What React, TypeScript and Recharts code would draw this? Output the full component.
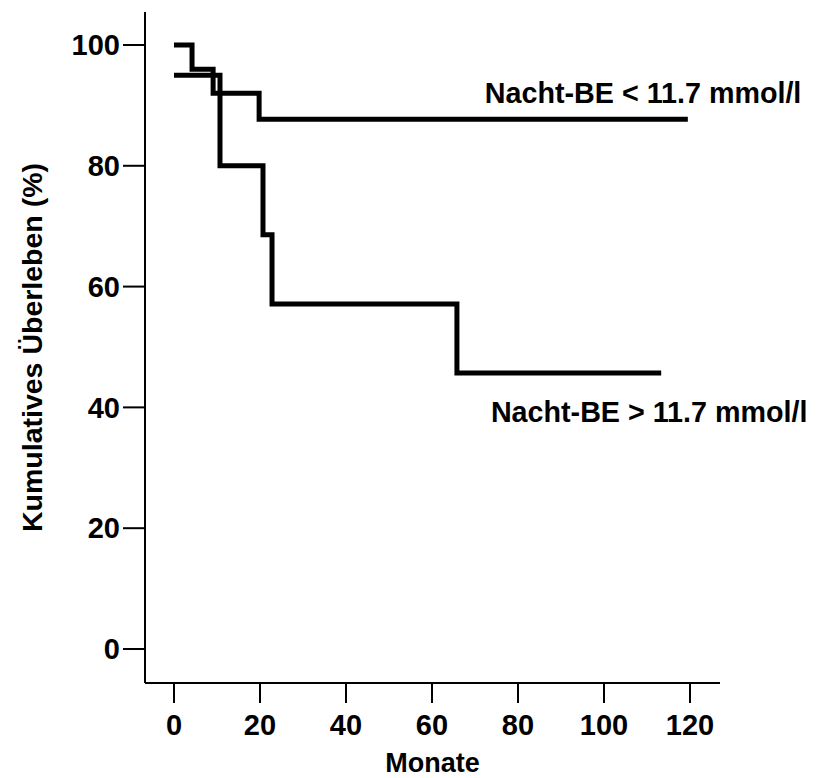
import React from 'react'
import { LineChart, Line, XAxis, YAxis, ReferenceDot } from 'recharts'

// Nacht-BE < 11.7 mmol/l
const monateUnter = [0, 4.2, 9.1, 19.8, 119.5]
const ueberlebenUnter = [100, 96, 92, 87.7, 87.7]

// Nacht-BE > 11.7 mmol/l
const monateUeber = [0, 10.7, 20.7, 22.8, 65.8, 113.3]
const ueberlebenUeber = [95, 80, 68.6, 57.1, 45.7, 45.7]

const xTicks = [0, 20, 40, 60, 80, 100, 120]
const yTicks = [0, 20, 40, 60, 80, 100]

const labelUnter = 'Nacht-BE < 11.7 mmol/l'
const labelUeber = 'Nacht-BE > 11.7 mmol/l'

const unterData = monateUnter.map((t, i) => ({ t, s: ueberlebenUnter[i] }))
const ueberData = monateUeber.map((t, i) => ({ t, s: ueberlebenUeber[i] }))

const FONT = '"Liberation Sans", Arial, sans-serif'
const tickStyle = { fill: '#000', fontSize: 29, fontWeight: 'bold', fontFamily: FONT }

const annotation = (text: string) => (props: any) => {
  const vb = props.viewBox || {}
  return (
    <text x={vb.x} y={vb.y} fill="#000" fontSize={28.7} fontWeight="bold" fontFamily={FONT} textAnchor="start">
      {text}
    </text>
  )
}

const YLabel = (props: any) => {
  const vb = props.viewBox || { x: 0, y: 12, width: 145, height: 671 }
  const cx = vb.x + 32
  const cy = vb.y + vb.height / 2
  return (
    <text
      x={cx}
      y={cy}
      transform={`rotate(-90 ${cx} ${cy})`}
      textAnchor="middle"
      dominantBaseline="central"
      fill="#000"
      fontSize={28.5}
      fontWeight="bold"
      fontFamily={FONT}
    >
      Kumulatives Überleben (%)
    </text>
  )
}

export default function App() {
  return (
    <div style={{ position: 'absolute', left: 0, top: 0, background: '#fff' }}>
      <LineChart width={822} height={778} margin={{ top: 12, right: 102, bottom: 0, left: 0 }}>
        <XAxis
          type="number"
          dataKey="t"
          domain={[-6.74, 126.98]}
          ticks={xTicks}
          interval={0}
          allowDataOverflow
          height={95}
          tickSize={20}
          tickMargin={11}
          axisLine={{ stroke: '#000', strokeWidth: 2 }}
          tickLine={{ stroke: '#000', strokeWidth: 2 }}
          tick={tickStyle}
          label={{ value: 'Monate', position: 'insideBottom', offset: 6, fill: '#000', fontSize: 27, fontWeight: 'bold', fontFamily: FONT }}
        />
        <YAxis
          type="number"
          domain={[-5.63, 105.46]}
          ticks={yTicks}
          interval={0}
          allowDataOverflow
          width={145}
          tickSize={22}
          tickMargin={3}
          axisLine={{ stroke: '#000', strokeWidth: 2 }}
          tickLine={{ stroke: '#000', strokeWidth: 2 }}
          tick={tickStyle}
          label={<YLabel />}
        />
        <Line
          data={unterData}
          type="stepAfter"
          dataKey="s"
          stroke="#000"
          strokeWidth={5}
          dot={false}
          activeDot={false}
          isAnimationActive={false}
        />
        <Line
          data={ueberData}
          type="stepAfter"
          dataKey="s"
          stroke="#000"
          strokeWidth={5}
          dot={false}
          activeDot={false}
          isAnimationActive={false}
        />
        <ReferenceDot x={72.3} y={90.4} r={0} fill="none" stroke="none" label={annotation(labelUnter)} />
        <ReferenceDot x={73.7} y={37.6} r={0} fill="none" stroke="none" label={annotation(labelUeber)} />
      </LineChart>
    </div>
  )
}
